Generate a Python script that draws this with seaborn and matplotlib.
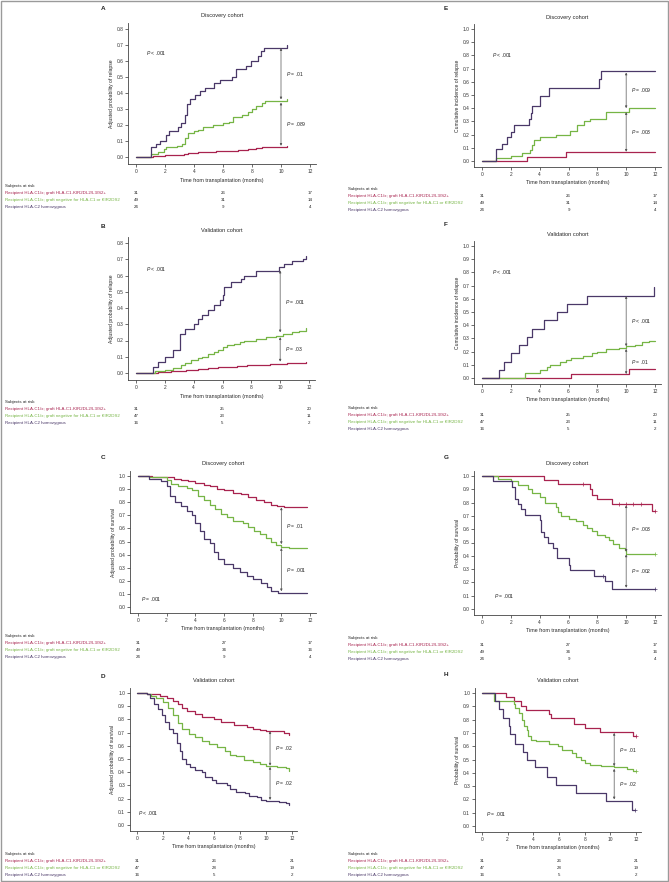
import matplotlib
matplotlib.use('Agg')
import matplotlib.pyplot as plt
import matplotlib.patches as patches
import matplotlib.transforms as mtransforms
import seaborn as sns
import pandas as pd

sns.set_theme(style='ticks')
plt.rcParams['font.family'] = ['Liberation Sans', 'DejaVu Sans']
plt.rcParams['mathtext.fontset'] = 'custom'
plt.rcParams['mathtext.it'] = 'Liberation Sans:italic'
plt.rcParams['mathtext.rm'] = 'Liberation Sans'

# ---- groups ----
groups = ['Recipient HLA-C1/x; graft HLA-C1-KIR2DL2/L3/S2+',
          'Recipient HLA-C1/x; graft negative for HLA-C1 or KIR2DS2',
          'Recipient HLA-C2 homozygous']
colors = ['#A8234F', '#76B545', '#4A3868']
risk_times = [0, 6, 12]

# ---- A: adjusted relapse, discovery ----
a_red_t = [0, 1.0, 1.2, 2.0, 2.8, 3.3, 3.6, 4.3, 5.5, 6.5, 7.0, 7.7, 8.3, 8.7, 9.3, 10.4]
a_red_y = [0, 0, 0.005, 0.01, 0.015, 0.02, 0.025, 0.03, 0.035, 0.04, 0.045, 0.05, 0.055, 0.06, 0.065, 0.066]
a_grn_t = [0, 1.0, 1.5, 1.9, 2.1, 2.8, 3.2, 3.4, 3.6, 4.0, 4.3, 4.6, 5.3, 6.0, 6.4, 6.7, 7.3, 7.7, 8.0, 8.3, 8.7, 8.9, 10.4]
a_grn_y = [0, 0.02, 0.03, 0.05, 0.06, 0.07, 0.08, 0.12, 0.15, 0.16, 0.17, 0.19, 0.20, 0.21, 0.22, 0.25, 0.26, 0.28, 0.30, 0.32, 0.34, 0.35, 0.36]
a_pur_t = [0, 1.0, 1.35, 1.65, 2.05, 2.3, 2.9, 3.1, 3.35, 3.55, 3.75, 4.05, 4.4, 4.75, 5.35, 5.8, 6.6, 6.9, 7.6, 7.9, 8.4, 8.65, 8.8, 10.4]
a_pur_y = [0, 0.06, 0.08, 0.10, 0.14, 0.16, 0.19, 0.21, 0.26, 0.33, 0.36, 0.39, 0.41, 0.43, 0.46, 0.48, 0.50, 0.55, 0.57, 0.60, 0.63, 0.66, 0.68, 0.70]
a_risk = [[31, 26, 17], [49, 31, 14], [24, 9, 4]]

# ---- B: adjusted relapse, validation ----
b_red_t = [0, 1.2, 1.5, 2.4, 3.0, 3.5, 4.3, 5.0, 5.7, 6.3, 7.0, 7.7, 9.3, 10.5, 11.8]
b_red_y = [0, 0, 0.005, 0.01, 0.015, 0.02, 0.025, 0.03, 0.035, 0.04, 0.045, 0.05, 0.055, 0.06, 0.065]
b_grn_t = [0, 1.2, 1.3, 2.0, 2.6, 3.1, 3.4, 3.8, 4.3, 4.6, 5.0, 5.4, 5.7, 6.0, 6.3, 6.8, 7.2, 7.5, 8.3, 9.0, 9.7, 10.2, 10.8, 11.3, 11.8]
b_grn_y = [0, 0, 0.01, 0.02, 0.03, 0.05, 0.06, 0.08, 0.09, 0.10, 0.12, 0.13, 0.14, 0.16, 0.17, 0.18, 0.19, 0.20, 0.21, 0.22, 0.23, 0.24, 0.25, 0.26, 0.28]
b_pur_t = [0, 1.2, 1.5, 2.0, 2.6, 3.05, 3.4, 4.0, 4.3, 4.6, 5.0, 5.4, 5.8, 6.0, 6.1, 6.6, 7.3, 7.5, 8.3, 9.9, 10.3, 10.8, 11.6, 11.8]
b_pur_y = [0, 0.04, 0.07, 0.10, 0.14, 0.24, 0.27, 0.30, 0.33, 0.36, 0.39, 0.42, 0.45, 0.48, 0.53, 0.56, 0.58, 0.60, 0.63, 0.65, 0.67, 0.69, 0.70, 0.72]
b_risk = [[31, 25, 20], [47, 23, 11], [16, 5, 2]]

# ---- C: adjusted survival, discovery ----
c_red_t = [0, 1.0, 2.0, 2.5, 3.0, 3.5, 4.0, 4.6, 5.0, 5.5, 6.0, 6.6, 7.2, 7.7, 8.2, 8.8, 9.3, 9.7, 10.2, 11.8]
c_red_y = [1.0, 0.995, 0.99, 0.98, 0.97, 0.96, 0.95, 0.93, 0.92, 0.90, 0.89, 0.87, 0.86, 0.84, 0.82, 0.80, 0.78, 0.77, 0.76, 0.76]
c_grn_t = [0, 0.8, 1.2, 2.0, 2.3, 2.8, 3.4, 3.8, 4.2, 4.6, 5.0, 5.4, 5.8, 6.2, 6.6, 7.3, 7.7, 8.1, 8.5, 8.9, 9.3, 9.6, 10.0, 10.5, 11.8]
c_grn_y = [1.0, 0.995, 0.99, 0.97, 0.94, 0.92, 0.91, 0.89, 0.85, 0.82, 0.78, 0.75, 0.71, 0.69, 0.66, 0.64, 0.61, 0.58, 0.56, 0.53, 0.50, 0.47, 0.46, 0.45, 0.45]
c_pur_t = [0, 0.8, 1.6, 2.0, 2.2, 2.6, 3.0, 3.4, 3.8, 4.0, 4.3, 4.6, 5.0, 5.3, 5.6, 6.0, 6.6, 7.1, 7.6, 8.0, 8.6, 9.0, 9.3, 9.8, 10.5, 11.8]
c_pur_y = [1.0, 0.98, 0.96, 0.92, 0.85, 0.80, 0.77, 0.73, 0.70, 0.64, 0.58, 0.52, 0.49, 0.42, 0.37, 0.33, 0.30, 0.27, 0.24, 0.21, 0.18, 0.15, 0.12, 0.11, 0.105, 0.105]
c_risk = [[31, 27, 17], [49, 34, 16], [24, 9, 4]]

# ---- D: adjusted survival, validation ----
d_red_t = [0, 0.8, 1.2, 1.8, 2.3, 2.8, 3.2, 3.5, 3.9, 4.5, 5.0, 6.0, 6.5, 7.5, 8.5, 9.0, 9.5, 10.0, 11.4, 11.8]
d_red_y = [1.0, 0.995, 0.99, 0.98, 0.96, 0.94, 0.92, 0.89, 0.86, 0.84, 0.82, 0.80, 0.78, 0.76, 0.74, 0.73, 0.72, 0.71, 0.70, 0.68]
d_grn_t = [0, 0.8, 1.1, 1.5, 2.0, 2.4, 2.8, 3.2, 3.5, 4.0, 4.5, 5.0, 5.6, 6.2, 6.8, 7.2, 7.7, 8.3, 9.0, 9.5, 10.0, 10.8, 11.5, 11.8]
d_grn_y = [1.0, 0.99, 0.98, 0.96, 0.93, 0.89, 0.83, 0.77, 0.73, 0.69, 0.67, 0.64, 0.61, 0.59, 0.56, 0.53, 0.52, 0.49, 0.48, 0.46, 0.45, 0.44, 0.43, 0.41]
d_pur_t = [0, 0.8, 1.0, 1.3, 1.6, 1.9, 2.2, 2.5, 2.8, 3.1, 3.3, 3.5, 3.8, 4.1, 4.5, 5.0, 5.3, 5.8, 6.1, 7.0, 7.2, 7.7, 8.4, 8.7, 9.3, 9.6, 10.0, 11.0, 11.5, 11.8]
d_pur_y = [1.0, 0.99, 0.96, 0.92, 0.88, 0.83, 0.78, 0.73, 0.70, 0.62, 0.56, 0.50, 0.46, 0.44, 0.42, 0.40, 0.36, 0.34, 0.32, 0.30, 0.27, 0.25, 0.24, 0.22, 0.21, 0.19, 0.18, 0.175, 0.17, 0.15]
d_risk = [[31, 26, 21], [47, 28, 19], [16, 5, 2]]

# ---- E: cumulative incidence of relapse, discovery ----
e_red_t = [0, 3.1, 5.8, 12.0]
e_red_y = [0, 0.03, 0.07, 0.07]
e_grn_t = [0, 1.0, 2.0, 2.8, 3.3, 3.5, 3.6, 4.0, 5.1, 6.1, 6.6, 7.1, 7.5, 8.6, 10.2, 12.0]
e_grn_y = [0, 0.02, 0.04, 0.06, 0.08, 0.12, 0.16, 0.18, 0.20, 0.23, 0.27, 0.30, 0.32, 0.37, 0.40, 0.40]
e_pur_t = [0, 1.0, 1.4, 1.75, 2.0, 2.25, 3.25, 3.4, 3.5, 4.0, 4.65, 8.15, 8.25, 12.0]
e_pur_y = [0, 0.09, 0.13, 0.18, 0.22, 0.27, 0.32, 0.36, 0.42, 0.49, 0.55, 0.62, 0.68, 0.68]
e_risk = [[31, 26, 17], [49, 31, 14], [24, 9, 4]]

# ---- F: cumulative incidence of relapse, validation ----
f_red_t = [0, 6.2, 10.2, 12.0]
f_red_y = [0, 0.03, 0.065, 0.065]
f_grn_t = [0, 3.0, 4.0, 4.5, 4.7, 5.4, 5.8, 6.2, 7.0, 7.6, 8.0, 8.6, 9.5, 10.0, 10.6, 11.1, 11.6, 12.0]
f_grn_y = [0, 0.04, 0.06, 0.08, 0.10, 0.12, 0.14, 0.15, 0.17, 0.19, 0.20, 0.22, 0.23, 0.24, 0.25, 0.27, 0.28, 0.28]
f_pur_t = [0, 1.2, 1.5, 2.0, 2.6, 3.1, 3.5, 4.3, 5.2, 5.9, 7.3, 11.9]
f_pur_y = [0, 0.06, 0.12, 0.19, 0.25, 0.31, 0.37, 0.44, 0.50, 0.56, 0.62, 0.69]
f_risk = [[31, 25, 20], [47, 23, 11], [16, 5, 2]]

# ---- G: survival, discovery ----
g_red_t = [0, 4.3, 5.3, 7.5, 7.6, 8.0, 9.0, 11.8, 12.0]
g_red_y = [1.0, 0.97, 0.94, 0.90, 0.86, 0.83, 0.79, 0.74, 0.74]
g_red_cens = [7.0, 9.5, 10.0, 10.5, 11.0, 12.0]
g_grn_t = [0, 1.1, 2.0, 2.5, 3.2, 3.5, 4.0, 4.4, 5.1, 5.3, 5.5, 6.0, 6.5, 7.0, 7.3, 7.6, 8.0, 8.5, 8.8, 9.1, 9.5, 9.9, 10.0, 12.0]
g_grn_y = [1.0, 0.98, 0.96, 0.93, 0.90, 0.87, 0.84, 0.80, 0.77, 0.73, 0.70, 0.68, 0.66, 0.63, 0.61, 0.59, 0.56, 0.54, 0.52, 0.49, 0.46, 0.44, 0.41, 0.41]
g_grn_cens = [12.0]
g_pur_t = [0, 0.75, 2.1, 2.3, 2.5, 2.7, 3.0, 4.0, 4.1, 4.3, 4.6, 4.9, 5.2, 6.0, 6.1, 7.8, 8.5, 9.0, 12.0]
g_pur_y = [1.0, 0.96, 0.92, 0.83, 0.79, 0.75, 0.71, 0.67, 0.58, 0.54, 0.50, 0.46, 0.38, 0.33, 0.29, 0.25, 0.21, 0.15, 0.15]
g_pur_cens = [8.4, 12.0]
g_risk = [[31, 27, 17], [49, 34, 16], [24, 9, 4]]

# ---- H: survival, validation ----
h_red_t = [0, 1.9, 2.5, 3.0, 3.4, 5.2, 5.4, 7.2, 8.0, 9.2, 11.8, 12.0]
h_red_y = [1.0, 0.97, 0.94, 0.90, 0.87, 0.84, 0.81, 0.77, 0.74, 0.71, 0.68, 0.68]
h_red_cens = [12.0]
h_grn_t = [0, 0.9, 2.5, 2.6, 2.9, 3.1, 3.3, 3.5, 3.6, 3.8, 4.2, 5.2, 5.9, 6.2, 7.0, 7.3, 7.7, 8.0, 8.4, 9.3, 10.3, 11.3, 11.8, 12.0]
h_grn_y = [1.0, 0.94, 0.92, 0.89, 0.85, 0.80, 0.75, 0.72, 0.68, 0.65, 0.64, 0.62, 0.60, 0.57, 0.55, 0.52, 0.50, 0.47, 0.46, 0.45, 0.44, 0.43, 0.41, 0.41]
h_grn_cens = [12.0]
h_pur_t = [0, 1.0, 1.3, 1.6, 2.1, 2.2, 2.6, 3.2, 3.5, 4.1, 5.1, 5.8, 7.3, 9.7, 11.7, 11.9]
h_pur_y = [1.0, 0.94, 0.88, 0.81, 0.75, 0.69, 0.62, 0.56, 0.50, 0.44, 0.37, 0.31, 0.25, 0.19, 0.12, 0.12]
h_pur_cens = [11.9]
h_risk = [[31, 26, 21], [47, 28, 19], [16, 5, 2]]

# pairwise arrows: (low, high, label)
a_arrows = [(0.36, 0.68, '= .01'), (0.07, 0.34, '= .089')]
b_arrows = [(0.25, 0.63, '= .001'), (0.07, 0.22, '= .03')]
c_arrows = [(0.48, 0.76, '= .01'), (0.12, 0.45, '= .001')]
d_arrows = [(0.45, 0.71, '= .02'), (0.19, 0.44, '= .02')]
e_arrows = [(0.40, 0.67, '= .009'), (0.07, 0.37, '= .003')]
f_arrows = [(0.24, 0.62, '< .001'), (0.03, 0.22, '= .01')]
g_arrows = [(0.43, 0.78, '= .003'), (0.16, 0.41, '= .002')]
h_arrows = [(0.45, 0.70, '= .01'), (0.20, 0.43, '= .02')]

W, H = 669, 882
fig = plt.figure(figsize=(W / 100, H / 100), dpi=100)
fig.patch.set_facecolor('white')


def px_rect(x0, x12, y0, ytop_px, ytop, xlim, ylim):
    sx = (x12 - x0) / 12
    sy = (y0 - ytop_px) / ytop
    left = x0 + xlim[0] * sx
    right = x0 + xlim[1] * sx
    top = y0 - ylim[1] * sy
    bottom = y0 - ylim[0] * sy
    return [left / W, 1 - bottom / H, (right - left) / W, (bottom - top) / H]


def ptext(lab):
    # italic P followed by the comparison
    return r'$\it{P}\ $' + lab


panels = [
    dict(letter='A', title='Discovery cohort', ylabel='Adjusted probability of relapse',
         curves=[(a_red_t, a_red_y), (a_grn_t, a_grn_y), (a_pur_t, a_pur_y)], cens=None,
         risk=a_risk, arrows=a_arrows, arrow_x=10.0, overall=('< .001', 0.7, 0.65), ymax=0.8,
         px=(136, 310, 157, 29), letter_xy=(103, 8), title_y=16, risk_y=186, text_x=5),
    dict(letter='B', title='Validation cohort', ylabel='Adjusted probability of relapse',
         curves=[(b_red_t, b_red_y), (b_grn_t, b_grn_y), (b_pur_t, b_pur_y)], cens=None,
         risk=b_risk, arrows=b_arrows, arrow_x=10.0, overall=('< .001', 0.7, 0.64), ymax=0.8,
         px=(136, 309, 373, 243), letter_xy=(103, 226), title_y=230, risk_y=402, text_x=5),
    dict(letter='C', title='Discovery cohort', ylabel='Adjusted probability of survival',
         curves=[(c_red_t, c_red_y), (c_grn_t, c_grn_y), (c_pur_t, c_pur_y)], cens=None,
         risk=c_risk, arrows=c_arrows, arrow_x=10.0, overall=('= .001', 0.2, 0.06), ymax=1.0,
         px=(138, 310, 607, 476), letter_xy=(103, 458), title_y=463, risk_y=636, text_x=5),
    dict(letter='D', title='Validation cohort', ylabel='Adjusted probability of survival',
         curves=[(d_red_t, d_red_y), (d_grn_t, d_grn_y), (d_pur_t, d_pur_y)], cens=None,
         risk=d_risk, arrows=d_arrows, arrow_x=10.3, overall=('< .001', 0.1, 0.09), ymax=1.0,
         px=(137, 292, 825, 693), letter_xy=(103, 677), title_y=681, risk_y=854, text_x=5),
    dict(letter='E', title='Discovery cohort', ylabel='Cumulative incidence of relapse',
         curves=[(e_red_t, e_red_y), (e_grn_t, e_grn_y), (e_pur_t, e_pur_y)], cens=None,
         risk=e_risk, arrows=e_arrows, arrow_x=10.0, overall=('< .001', 0.7, 0.80), ymax=1.0,
         px=(482, 655, 161, 29), letter_xy=(446, 8), title_y=17, risk_y=189, text_x=348),
    dict(letter='F', title='Validation cohort', ylabel='Cumulative incidence of relapse',
         curves=[(f_red_t, f_red_y), (f_grn_t, f_grn_y), (f_pur_t, f_pur_y)], cens=None,
         risk=f_risk, arrows=f_arrows, arrow_x=10.0, overall=('< .001', 0.7, 0.80), ymax=1.0,
         px=(482, 655, 378, 246), letter_xy=(446, 225), title_y=235, risk_y=408, text_x=348),
    dict(letter='G', title='Discovery cohort', ylabel='Probability of survival',
         curves=[(g_red_t, g_red_y), (g_grn_t, g_grn_y), (g_pur_t, g_pur_y)],
         cens=[g_red_cens, g_grn_cens, g_pur_cens],
         risk=g_risk, arrows=g_arrows, arrow_x=10.0, overall=('= .001', 0.8, 0.10), ymax=1.0,
         px=(482, 655, 609, 476), letter_xy=(446, 458), title_y=463, risk_y=638, text_x=348),
    dict(letter='H', title='Validation cohort', ylabel='Probability of survival',
         curves=[(h_red_t, h_red_y), (h_grn_t, h_grn_y), (h_pur_t, h_pur_y)],
         cens=[h_red_cens, h_grn_cens, h_pur_cens],
         risk=h_risk, arrows=h_arrows, arrow_x=10.3, overall=('= .001', 0.3, 0.09), ymax=1.0,
         px=(482, 636, 826, 693), letter_xy=(446, 675), title_y=680, risk_y=854, text_x=348),
]

fs = 3.6
rfs = 3.2
for p in panels:
    ymax = p['ymax']
    xlim = (-0.55, 12.4)
    ylim = (-0.045, ymax + 0.035)
    x0, x12, y0, ytp = p['px']
    ax = fig.add_axes(px_rect(x0, x12, y0, ytp, ymax, xlim, ylim))

    # step curves
    frames = []
    for g, (t, y) in zip(groups, p['curves']):
        frames.append(pd.DataFrame({'t': t, 'p': y, 'grp': g}))
    df = pd.concat(frames, ignore_index=True)
    sns.lineplot(data=df, x='t', y='p', hue='grp', hue_order=groups, palette=colors,
                 drawstyle='steps-post', estimator=None, sort=False, legend=False,
                 linewidth=0.9, ax=ax)

    # censoring marks
    if p['cens']:
        for (t, y), ct, col in zip(p['curves'], p['cens'], colors):
            cy = []
            for c in ct:
                val = y[0]
                for ti, yi in zip(t, y):
                    if ti <= c:
                        val = yi
                cy.append(val)
            sns.scatterplot(x=ct, y=cy, marker='+', s=7, color=col, linewidth=0.5,
                            legend=False, ax=ax, zorder=4)

    # pairwise comparison arrows
    for lo, hi, lab in p['arrows']:
        ax.annotate('', xy=(p['arrow_x'], hi), xytext=(p['arrow_x'], lo),
                    arrowprops=dict(arrowstyle='<|-|>', color='#555555', lw=0.5,
                                    mutation_scale=3, shrinkA=0, shrinkB=0))
        ax.text(p['arrow_x'] + 0.35, (lo + hi) / 2, ptext(lab), fontsize=fs,
                va='center', ha='left', color='#222222')
    lab, ox, oy = p['overall']
    ax.text(ox, oy, ptext(lab), fontsize=fs, va='center', ha='left', color='#222222')

    ax.set_xlim(*xlim)
    ax.set_ylim(*ylim)
    ax.set_xticks([0, 2, 4, 6, 8, 10, 12])
    nt = int(round(ymax * 10)) + 1
    ax.set_yticks([i / 10 for i in range(nt)])
    ax.set_yticklabels([f'{i / 10:.1f}' for i in range(nt)])
    ax.tick_params(labelsize=3.5, length=2, width=0.5, pad=1.5, colors='#333333')
    for s in ['left', 'bottom']:
        ax.spines[s].set_linewidth(0.6)
        ax.spines[s].set_color('#444444')
    sns.despine(ax=ax)
    ax.set_xlabel('Time from transplantation (months)', fontsize=3.8, labelpad=2.5)
    ax.set_ylabel(p['ylabel'], fontsize=fs, labelpad=2)
    ax.set_facecolor('none')

    # title and panel letter
    cx = (ax.get_position().x0 + ax.get_position().x1) / 2
    fig.text(cx, 1 - p['title_y'] / H, p['title'], fontsize=4.1, ha='center', va='center')
    lx, ly = p['letter_xy']
    fig.text(lx / W, 1 - ly / H, p['letter'], fontsize=4.6, fontweight='bold',
             ha='center', va='center')

    # subjects at risk table
    ry = p['risk_y']
    fig.text(p['text_x'] / W, 1 - ry / H, 'Subjects at risk', fontsize=rfs,
             ha='left', va='center', color='#222222')
    trans = mtransforms.blended_transform_factory(ax.transData, fig.transFigure)
    for k, (g, col, row) in enumerate(zip(groups, colors, p['risk'])):
        yy = 1 - (ry + 7 * (k + 1)) / H
        fig.text(p['text_x'] / W, yy, g, fontsize=rfs, ha='left', va='center', color=col)
        for tx, n in zip(risk_times, row):
            ax.text(tx, yy, str(n), fontsize=rfs, ha='center', va='center',
                    color='#222222', transform=trans, clip_on=False)

fig.patches.append(patches.Rectangle((0.0015, 0.0015), 0.997, 0.997, transform=fig.transFigure,
                                     fill=False, edgecolor='#9a9a9a', lw=1.0))

fig.savefig('out.png', dpi=100, facecolor='white')
